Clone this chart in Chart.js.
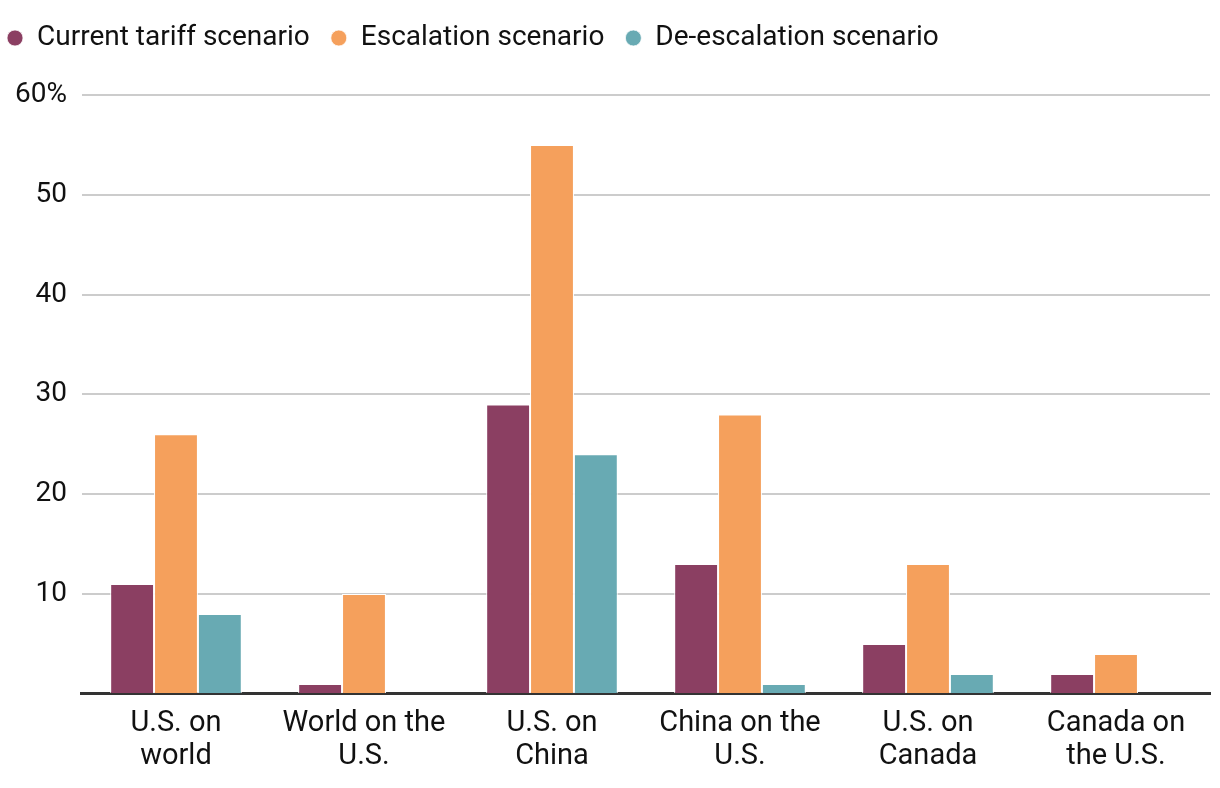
<!DOCTYPE html>
<html>
<head>
<meta charset="utf-8">
<script src="https://cdn.jsdelivr.net/npm/chart.js@4"></script>
<style>
  html, body { margin: 0; padding: 0; background: #fff; }
  .wrap { width: 1220px; height: 788px; }
</style>
</head>
<body>
<div class="wrap"><canvas id="tariffChart" width="1220" height="788"></canvas></div>
<script>
const categories = [
    ['U.S. on', 'world'],
    ['World on the', 'U.S.'],
    ['U.S. on', 'China'],
    ['China on the', 'U.S.'],
    ['U.S. on', 'Canada'],
    ['Canada on', 'the U.S.']
];
const currentTariff = [11, 1, 29, 13, 5, 2];
const escalation = [26, 10, 55, 28, 13, 4];
const deEscalation = [8, null, 24, 1, 2, null];
const yTicks = [10, 20, 30, 40, 50, 60];

const FONT = 'Roboto';

// push the plot down below the legend, and nudge the legend to the left edge
const legendGap = {
    id: 'legendGap',
    beforeInit(chart) {
        const fit = chart.legend.fit;
        chart.legend.fit = function () {
            fit.call(this);
            this.height += 33;
        };
    },
    afterLayout(chart) {
        chart.legend.left -= 14;
        chart.legend.right -= 14;
    }
};

const barStyle = {
    borderColor: '#fff',
    borderWidth: { top: 1, left: 1, right: 1, bottom: 0 },
    borderSkipped: 'start'
};

new Chart(document.getElementById('tariffChart'), {
    type: 'bar',
    data: {
        labels: categories,
        datasets: [
            { label: 'Current tariff scenario', data: currentTariff, backgroundColor: '#8B3F62', ...barStyle },
            { label: 'Escalation scenario', data: escalation, backgroundColor: '#F5A05C', ...barStyle },
            { label: 'De-escalation scenario', data: deEscalation, backgroundColor: '#68AAB3', ...barStyle }
        ]
    },
    plugins: [legendGap],
    options: {
        responsive: false,
        animation: false,
        datasets: {
            bar: { categoryPercentage: 0.7, barPercentage: 1 }
        },
        layout: {
            padding: { left: 0, right: 10, top: 3, bottom: 10 }
        },
        plugins: {
            legend: {
                position: 'top',
                align: 'start',
                labels: {
                    usePointStyle: true,
                    pointStyle: 'circle',
                    boxHeight: 11.3,
                    pointStyleWidth: 16,
                    padding: 21,
                    color: '#111',
                    font: { family: FONT, size: 28 }
                }
            },
            tooltip: { enabled: false }
        },
        scales: {
            y: {
                min: 0,
                max: 60,
                afterBuildTicks: axis => {
                    axis.ticks = [0].concat(yTicks).map(v => ({ value: v }));
                },
                border: { display: false },
                grid: {
                    drawTicks: false,
                    color: ctx => ctx.tick && ctx.tick.value === 0 ? 'rgba(0,0,0,0)' : '#cccccc',
                    lineWidth: 2
                },
                ticks: {
                    padding: 15,
                    color: '#111',
                    font: { family: FONT, size: 28 },
                    callback: v => v === 0 ? '' : (v === 60 ? v + '%' : v)
                }
            },
            x: {
                border: { display: true, color: '#333', width: 3 },
                grid: { display: false },
                ticks: {
                    padding: 5,
                    color: '#111',
                    maxRotation: 0,
                    autoSkip: false,
                    font: { family: FONT, size: 29, lineHeight: 1.14 }
                }
            }
        }
    }
});
</script>
</body>
</html>
